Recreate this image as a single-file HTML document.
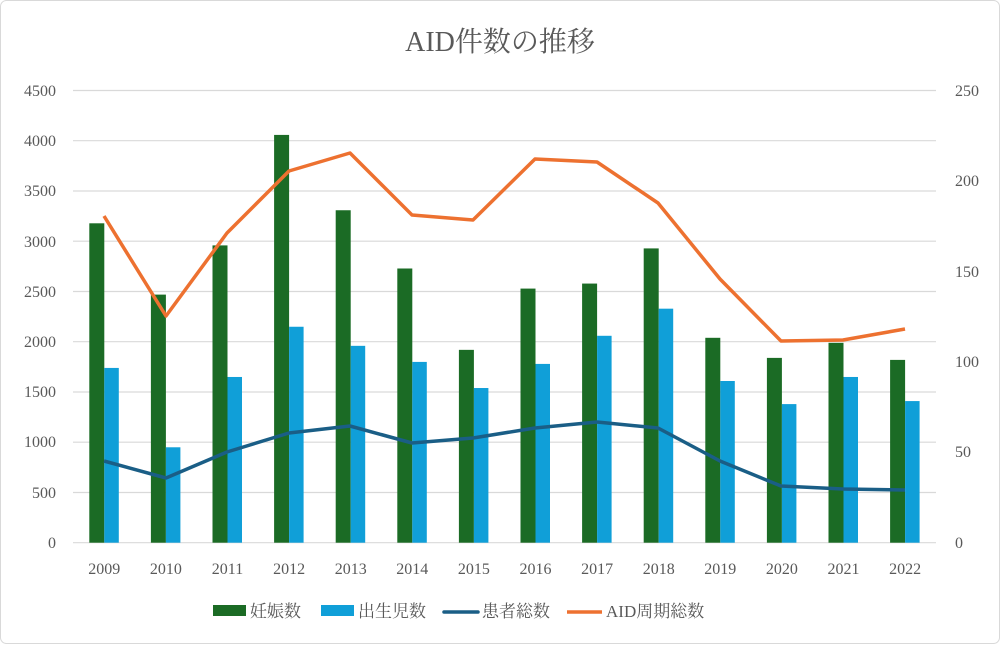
<!DOCTYPE html>
<html><head><meta charset="utf-8"><style>
body{margin:0;background:#fff}
svg text{font-family:"Liberation Serif","Noto Serif CJK JP",serif;fill:#595959}
</style></head><body>
<svg width="1000" height="644" viewBox="0 0 1000 644">
<rect x="0.5" y="0.5" width="999" height="643" rx="6" fill="#fff" stroke="#d9d9d9"/>
<text x="500" y="51" font-size="28" text-anchor="middle">AID件数の推移</text>
<g stroke="#d9d9d9" stroke-width="1.2">
<line x1="73" x2="936" y1="90.5" y2="90.5"/><line x1="73" x2="936" y1="140.7" y2="140.7"/>
<line x1="73" x2="936" y1="191" y2="191"/><line x1="73" x2="936" y1="241.2" y2="241.2"/>
<line x1="73" x2="936" y1="291.5" y2="291.5"/><line x1="73" x2="936" y1="341.7" y2="341.7"/>
<line x1="73" x2="936" y1="392" y2="392"/><line x1="73" x2="936" y1="442.2" y2="442.2"/>
<line x1="73" x2="936" y1="492.5" y2="492.5"/><line x1="73" x2="936" y1="542.7" y2="542.7"/>
</g>
<g font-size="16" text-anchor="end">
<text x="56" y="96">4500</text><text x="56" y="146">4000</text><text x="56" y="196">3500</text>
<text x="56" y="247">3000</text><text x="56" y="297">2500</text><text x="56" y="347">2000</text>
<text x="56" y="397">1500</text><text x="56" y="447">1000</text><text x="56" y="498">500</text><text x="56" y="548">0</text>
</g>
<g font-size="16" text-anchor="start">
<text x="955" y="96">250</text><text x="955" y="186">200</text><text x="955" y="277">150</text>
<text x="955" y="367">100</text><text x="955" y="457">50</text><text x="955" y="548">0</text>
</g>
<g id="bars"></g>
<g font-size="16" text-anchor="middle" id="xl"></g>
<polyline fill="none" stroke="#1a5e86" stroke-width="3.5" stroke-linejoin="round" points="104,461 166,478 227,452 289,433 350,426 412,443 473,438 535,428 597,422 658,428 720,461 781,486 843,489 905,490"/>
<polyline fill="none" stroke="#ed7130" stroke-width="3.5" stroke-linejoin="round" points="104,216 166,316 227,233 289,171 350,153 412,215 473,220 535,159 597,162 658,203 720,279 781,341 843,340 905,329"/>
<rect x="213" y="605" width="33" height="11" fill="#1b6b25"/>
<text x="250" y="617" font-size="17">妊娠数</text>
<rect x="321" y="605" width="33" height="11" fill="#109fd8"/>
<text x="358" y="617" font-size="17">出生児数</text>
<line x1="444" x2="478" y1="612" y2="612" stroke="#1a5e86" stroke-width="3.5" stroke-linecap="round"/>
<text x="482" y="617" font-size="17">患者総数</text>
<line x1="567" x2="602" y1="612" y2="612" stroke="#ed7130" stroke-width="3.5"/>
<text x="606" y="617" font-size="17">AID周期総数</text>
</svg>
<script>
var g=[3180,2470,2960,4060,3310,2730,1920,2530,2580,2930,2040,1840,1990,1820];
var b=[1740,950,1650,2150,1960,1800,1540,1780,2060,2330,1610,1380,1650,1410];
var s='',t='';
for(var i=0;i<14;i++){var c=104.3+i*61.6;
var hg=g[i]*0.10044,hb=b[i]*0.10044;
s+='<rect x="'+(c-15)+'" y="'+(542.7-hg)+'" width="15" height="'+hg+'" fill="#1b6b25"/>';
s+='<rect x="'+c+'" y="'+(542.7-hb)+'" width="14.5" height="'+hb+'" fill="#109fd8"/>';
t+='<text x="'+c+'" y="574">'+(2009+i)+'</text>';}
document.getElementById('bars').innerHTML=s;document.getElementById('xl').innerHTML=t;
</script>
</body></html>
